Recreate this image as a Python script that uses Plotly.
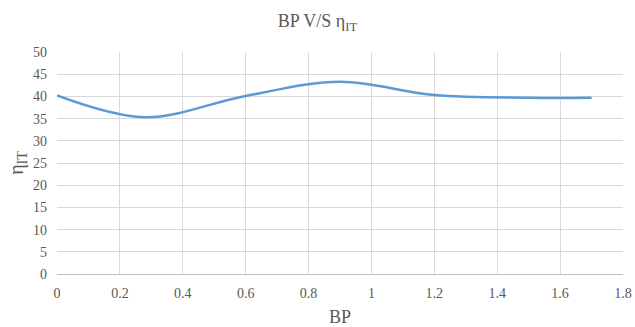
import plotly.graph_objects as go

bp = [0.0, 0.28, 0.6, 0.9, 1.2, 1.5, 1.7]
eta_it = [40.2, 35.3, 40.1, 43.3, 40.3, 39.7, 39.7]

x_ticks = [0, 0.2, 0.4, 0.6, 0.8, 1.0, 1.2, 1.4, 1.6, 1.8]
x_tick_labels = ["0", "0.2", "0.4", "0.6", "0.8", "1", "1.2", "1.4", "1.6", "1.8"]
y_ticks = [0, 5, 10, 15, 20, 25, 30, 35, 40, 45, 50]
y_tick_labels = [str(v) for v in y_ticks]

font_family = "'Liberation Serif', 'Times New Roman', Times, serif"
grey = "#595959"
grid = "#d9d9d9"

fig = go.Figure()
fig.add_trace(go.Scatter(
    x=bp, y=eta_it, mode="lines",
    line=dict(color="#5b9bd5", width=2.5, shape="spline", smoothing=1.0),
    showlegend=False,
))

fig.update_layout(
    width=635, height=327,
    margin=dict(l=57, r=12, t=52, b=53),
    paper_bgcolor="white", plot_bgcolor="white",
    font=dict(family=font_family, color=grey, size=14),
    title=dict(text="BP V/S η<sub>IT</sub>", x=0.5, xanchor="center",
               y=1 - 21 / 327, yanchor="middle",
               font=dict(family=font_family, size=18, color=grey)),
    xaxis=dict(
        range=[0, 1.8], tickvals=x_ticks, ticktext=x_tick_labels,
        showgrid=True, gridcolor=grid, gridwidth=1,
        zeroline=False, showline=True, linecolor="#bfbfbf", linewidth=1,
        ticks="", ticklen=0, automargin=False, ticklabelstandoff=6,
        tickfont=dict(family=font_family, size=14, color=grey),
        title=dict(text="BP", font=dict(family=font_family, size=18, color=grey), standoff=12),
    ),
    yaxis=dict(
        range=[0, 50], tickvals=y_ticks, ticktext=y_tick_labels,
        showgrid=True, gridcolor=grid, gridwidth=1,
        zeroline=False, showline=False,
        ticks="", ticklen=0, automargin=False, ticklabelstandoff=9,
        tickfont=dict(family=font_family, size=14, color=grey),
        title=dict(text="η<sub>IT</sub>", font=dict(family=font_family, size=20, color=grey), standoff=4),
    ),
)

fig.write_html("out.html")
